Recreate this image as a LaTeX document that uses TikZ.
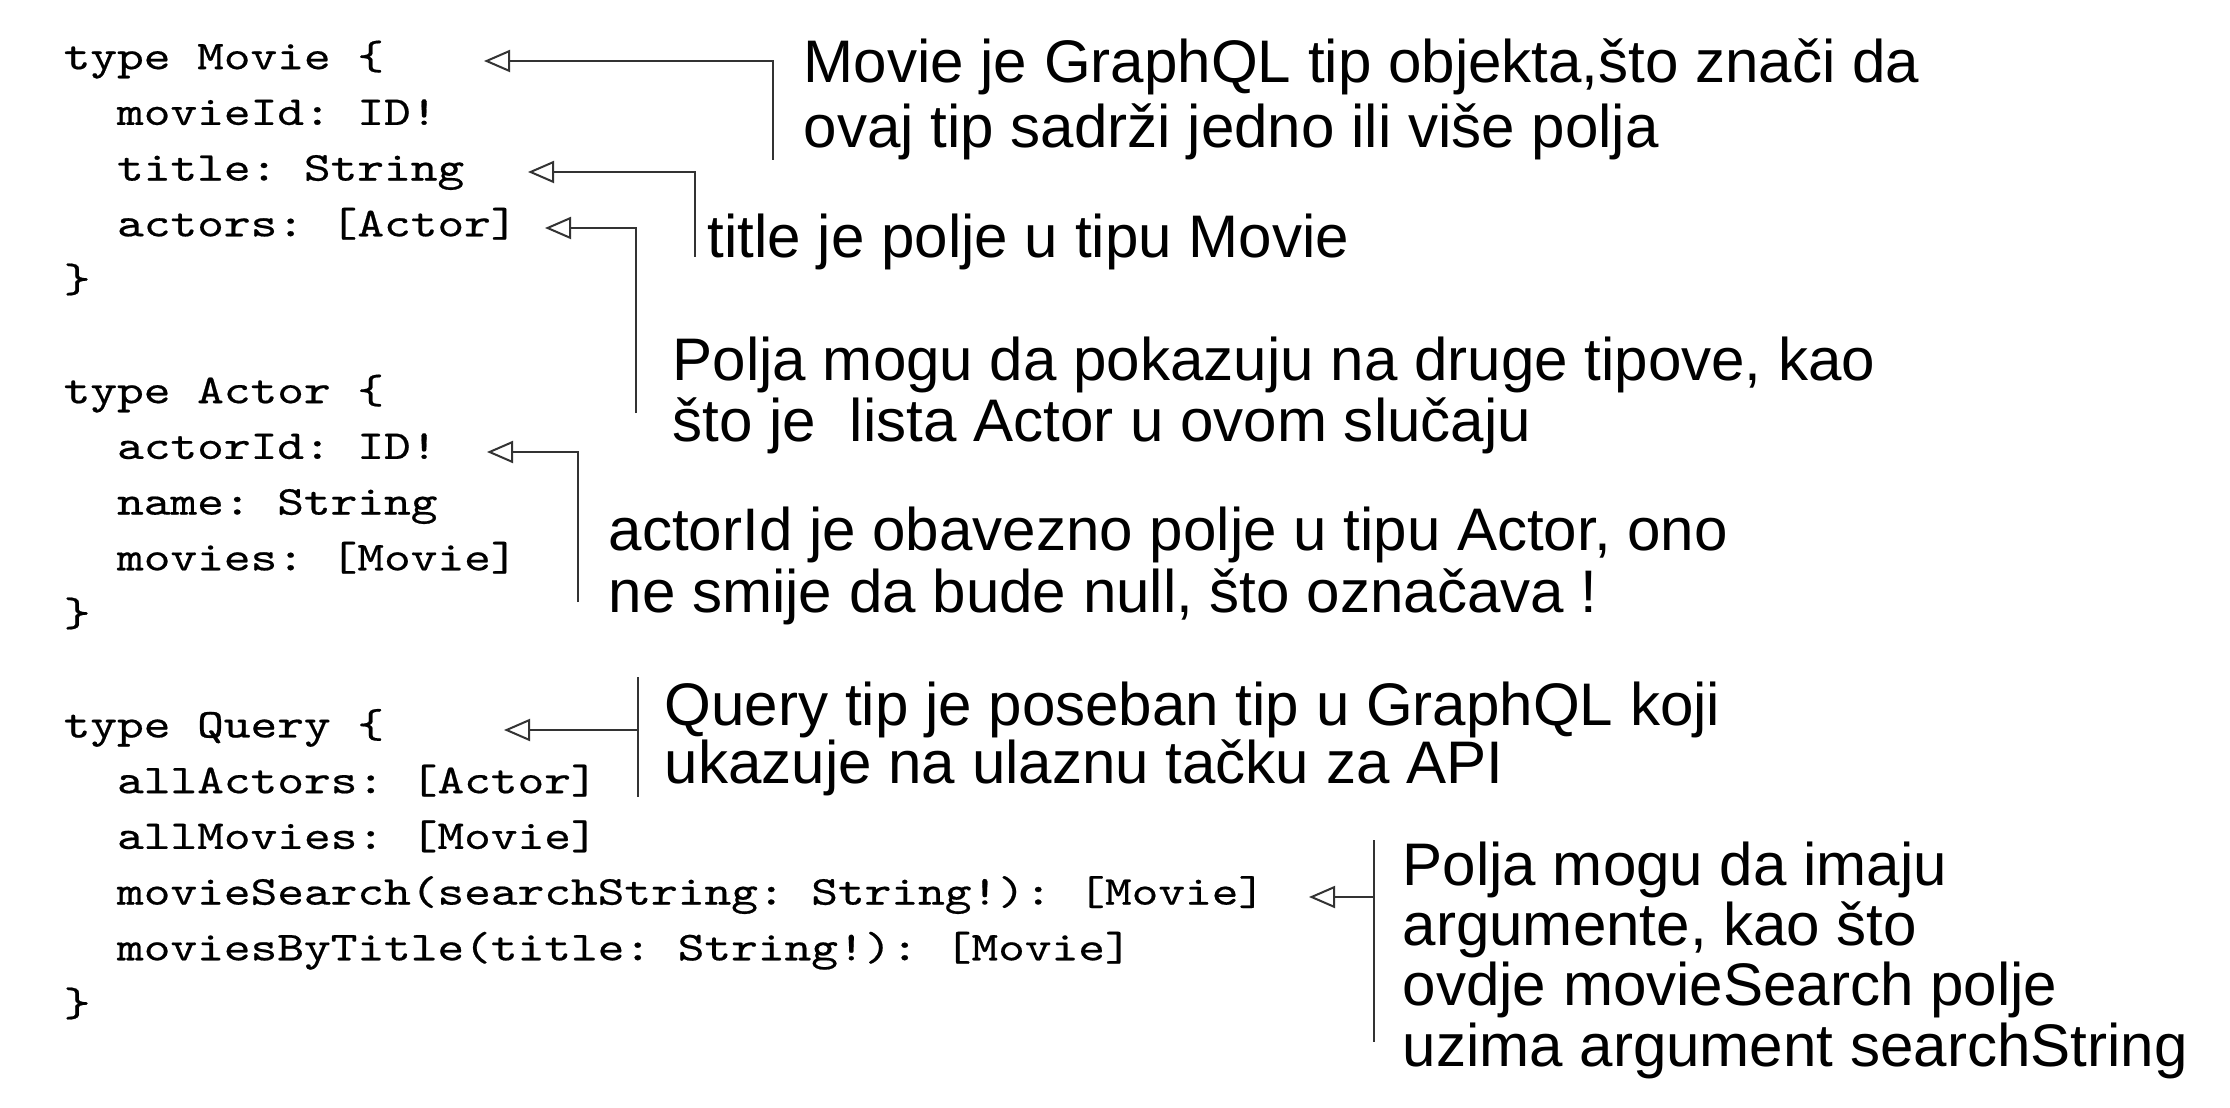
\documentclass[tikz,border=0pt]{standalone}
\usepackage{fontspec}
\setmainfont{Liberation Sans}
\newfontfamily\codefont[FakeStretch=1.24,FakeBold=0.5]{lmmono10-regular.otf}
\usetikzlibrary{arrows.meta}
\begin{document}
\frenchspacing
\begin{tikzpicture}[x=0.1mm,y=-0.1mm,
  code/.style={anchor=base west, inner sep=0pt, align=left, font=\codefont\fontsize{11.67pt}{15.85pt}\selectfont},
  note/.style={anchor=base west, inner sep=0pt, align=left, text=black},
  conn/.style={draw=black!80, line width=0.2mm},
  tip/.style={-{Triangle[open,length=2.6mm,width=2.2mm]}}]
\path[use as bounding box, fill=white] (0,0) rectangle (2230,1108);

% code blocks (anchored at the baseline of their last line)
\node[code] (movie) at (63,292) {type Movie \{\\\ \ movieId: ID!\\\ \ title: String\\\ \ actors: [Actor]\\\}};
\node[code] (actor) at (63,626) {type Actor \{\\\ \ actorId: ID!\\\ \ name: String\\\ \ movies: [Movie]\\\}};
\node[code] (query) at (63,1016) {type Query \{\\\ \ allActors: [Actor]\\\ \ allMovies: [Movie]\\\ \ movieSearch(searchString: String!): [Movie]\\\ \ moviesByTitle(title: String!): [Movie]\\\}};

% notes (anchored at the baseline of their last line)
\node[note, font=\fontsize{17.1pt}{18.5pt}\selectfont] (n1) at (803,148) {Movie je GraphQL tip objekta,što znači da\\ovaj tip sadrži jedno ili više polja};
\node[note, font=\fontsize{17.1pt}{18.5pt}\selectfont] (n2) at (707,258) {title je polje u tipu Movie};
\node[note, font=\fontsize{17.1pt}{17.6pt}\selectfont] (n3) at (672,442) {Polja mogu da pokazuju na druge tipove, kao\\što je \ lista Actor u ovom slučaju};
\node[note, font=\fontsize{17.1pt}{17.6pt}\selectfont] (n4) at (608,612) {actorId je obavezno polje u tipu Actor, ono\\ne smije da bude null, što označava !};
\node[note, font=\fontsize{17.1pt}{16.5pt}\selectfont] (n5) at (664,783) {Query tip je poseban tip u GraphQL koji\\ukazuje na ulaznu tačku za API};
\node[note, font=\fontsize{17.1pt}{17.1pt}\selectfont] (n6) at (1402,1066) {Polja mogu da imaju\\argumente, kao što\\ovdje movieSearch polje\\uzima argument searchString};

% connector points
\coordinate (t1) at (484,61);  \coordinate (b1) at (773,160);
\coordinate (t2) at (528,172); \coordinate (b2) at (695,257);
\coordinate (t3) at (545,228); \coordinate (b3) at (636,413);
\coordinate (t4) at (487,452); \coordinate (b4) at (578,602);
\coordinate (t5) at (504,730); \coordinate (v5a) at (638,677); \coordinate (v5b) at (638,797); \coordinate (m5) at (638,730);
\coordinate (t6) at (1309,897); \coordinate (v6a) at (1374,840); \coordinate (v6b) at (1374,1042); \coordinate (m6) at (1374,897);

\draw[conn,tip] (b1) |- (t1);
\draw[conn,tip] (b2) |- (t2);
\draw[conn,tip] (b3) |- (t3);
\draw[conn,tip] (b4) |- (t4);
\draw[conn] (v5a) -- (v5b);
\draw[conn,tip] (m5) -- (t5);
\draw[conn] (v6a) -- (v6b);
\draw[conn,tip] (m6) -- (t6);
\end{tikzpicture}
\end{document}
